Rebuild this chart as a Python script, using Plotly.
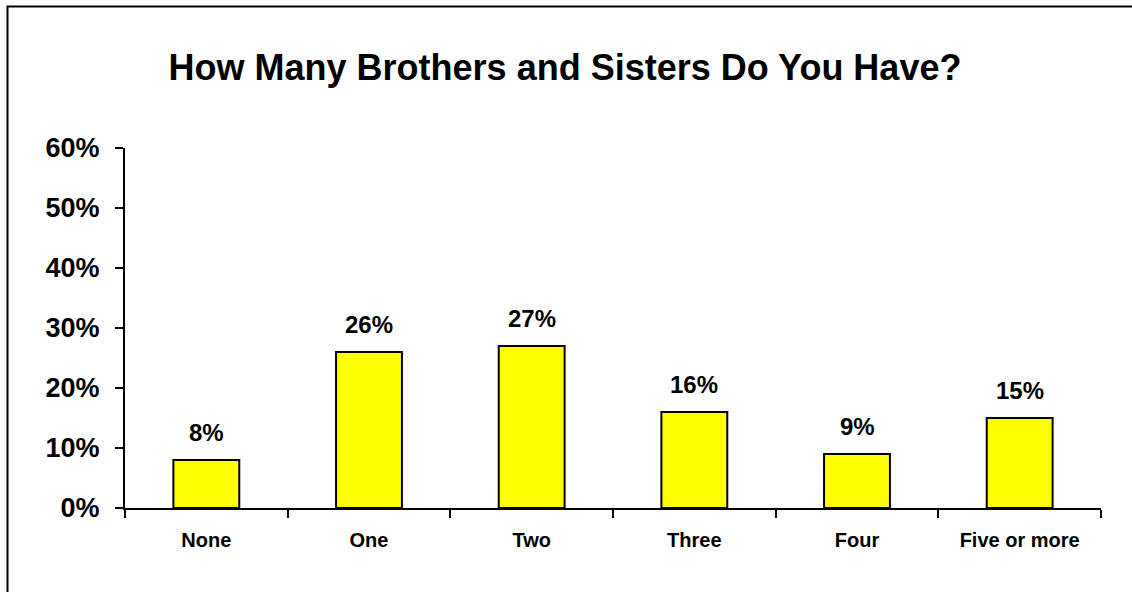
import plotly.graph_objects as go

categories = ["None", "One", "Two", "Three", "Four", "Five or more"]
values = [8, 26, 27, 16, 9, 15]
value_labels = ["8%", "26%", "27%", "16%", "9%", "15%"]
y_ticks = [0, 10, 20, 30, 40, 50, 60]
y_tick_labels = ["0%", "10%", "20%", "30%", "40%", "50%", "60%"]

W, H = 1132, 592
L, R, T, B = 125, 31, 148, 84
pw, ph = W - L - R, H - T - B
FONT = "Liberation Sans, Arial"

fig = go.Figure()
fig.add_trace(go.Bar(
    x=categories, y=values, width=0.405,
    marker=dict(color="#FFFF00", line=dict(color="black", width=2)),
    hoverinfo="skip",
))

for c, v, t in zip(categories, values, value_labels):
    fig.add_annotation(x=c, y=v, text="<b>%s</b>" % t, showarrow=False, yanchor="bottom",
                       yshift=12, font=dict(family=FONT, size=24, color="black"))

fig.add_shape(type="rect", xref="paper", yref="paper",
              x0=(7.5 - L) / pw, x1=(W + 10 - L) / pw,
              y0=(H - B - (H + 10)) / ph, y1=(H - B - 6.5) / ph,
              line=dict(color="black", width=2), fillcolor="rgba(0,0,0,0)", layer="below")

fig.update_layout(
    width=W, height=H,
    margin=dict(l=L, r=R, t=T, b=B, pad=0),
    paper_bgcolor="white", plot_bgcolor="white",
    showlegend=False,
    title=dict(text="<b>How Many Brothers and Sisters Do You Have?</b>",
               x=(565 - L) / pw, xref="paper", xanchor="center", y=1 - 67 / H, yanchor="middle",
               font=dict(family=FONT, size=36, color="black")),
    font=dict(family=FONT, color="black"),
)
fig.update_xaxes(
    type="category", showline=True, linecolor="black", linewidth=2,
    ticks="outside", tickson="boundaries", ticklen=8, tickwidth=2, tickcolor="black",
    showgrid=False, zeroline=False,
    tickfont=dict(family=FONT, size=20, color="black"),
    ticklabelstandoff=13,
    tickvals=categories, ticktext=["<b>%s</b>" % c for c in categories],
)
fig.update_yaxes(
    range=[0, 60], showline=True, linecolor="black", linewidth=2,
    ticks="outside", ticklen=8, tickwidth=2, tickcolor="black",
    showgrid=False, zeroline=False,
    tickvals=y_ticks, ticktext=["<b>%s</b>" % t for t in y_tick_labels],
    tickfont=dict(family=FONT, size=27, color="black"),
    ticklabelstandoff=10,
)

fig.write_html("out.html", config={"displayModeBar": False},
               post_script="document.body.style.margin='0';document.body.style.padding='0';")
